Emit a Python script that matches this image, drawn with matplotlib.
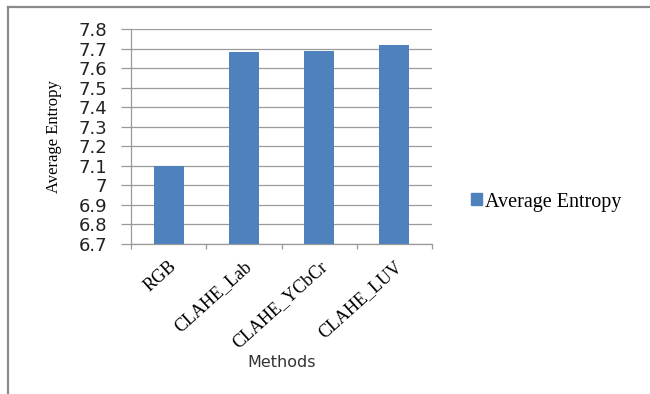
import numpy as np
import matplotlib
matplotlib.use("Agg")
import matplotlib.pyplot as plt
from matplotlib.lines import Line2D
from matplotlib.patches import Patch

methods = ["RGB", "CLAHE_Lab", "CLAHE_YCbCr", "CLAHE_LUV"]
entropy = [7.10, 7.68, 7.69, 7.72]
yticks = [6.7, 6.8, 6.9, 7.0, 7.1, 7.2, 7.3, 7.4, 7.5, 7.6, 7.7, 7.8]
series_name = "Average Entropy"

bar_color = "#4F81BD"
grid_color = "#9a9a9a"

fig = plt.figure(figsize=(6.5, 3.94), dpi=100)
ax = fig.add_axes([131 / 650, 1 - 244 / 394, 301 / 650, 215 / 394])

x = np.arange(len(methods))
ax.bar(x, entropy, width=0.4, color=bar_color, zorder=3)

ax.set_xlim(-0.5, len(methods) - 0.5)
ax.set_ylim(yticks[0], yticks[-1])
ax.set_yticks(yticks)
ax.set_yticklabels(["%g" % round(v, 1) for v in yticks],
                   fontfamily="DejaVu Sans", fontsize=13, color="#222222")
ax.yaxis.grid(True, color=grid_color, lw=0.9, zorder=0)
ax.tick_params(axis="y", direction="out", length=7, width=0.9,
               color=grid_color, pad=10)

ax.set_xticks(x)
ax.set_xticklabels(methods, rotation=42, ha="right", va="top",
                   rotation_mode="anchor", fontfamily="Liberation Serif",
                   fontsize=13)
ax.tick_params(axis="x", length=0, pad=10)
ax.set_xticks(np.arange(-0.5, len(methods)), minor=True)
ax.tick_params(axis="x", which="minor", direction="out", length=3.5,
               width=0.9, color=grid_color)

for s in ["top", "right"]:
    ax.spines[s].set_visible(False)
for s in ["left", "bottom"]:
    ax.spines[s].set_color(grid_color)
    ax.spines[s].set_linewidth(0.9)

ax.set_ylabel(series_name, fontfamily="Liberation Serif", fontsize=12)
ax.set_xlabel("Methods", fontfamily="DejaVu Sans", fontsize=11.5,
              color="#333333")
ax.xaxis.set_label_coords(0.5, (244 - 355) / 215)
ax.yaxis.set_label_coords((62 - 131) / 301, 0.5)

fig.legend(handles=[Patch(color=bar_color, label=series_name)],
           loc="center left", bbox_to_anchor=(471 / 650, 1 - 202 / 394),
           frameon=False, handlelength=0.55, handleheight=0.55,
           handletextpad=0.15, borderpad=0, borderaxespad=0,
           prop={"family": "Liberation Serif", "size": 14.5})

# chart border (top and left only visible)
fig.add_artist(Line2D([7.5 / 650, 7.5 / 650], [0, 1 - 6.5 / 394],
                      transform=fig.transFigure, color="#8a8a8a", lw=1.6))
fig.add_artist(Line2D([7.5 / 650, 1], [1 - 6.5 / 394, 1 - 6.5 / 394],
                      transform=fig.transFigure, color="#8a8a8a", lw=1.6))

fig.savefig("out.png", dpi=100)
